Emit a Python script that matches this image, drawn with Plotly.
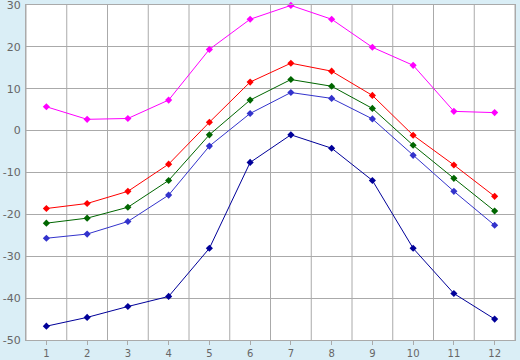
import plotly.graph_objects as go

months = [1, 2, 3, 4, 5, 6, 7, 8, 9, 10, 11, 12]
magenta = [5.7, 2.7, 2.9, 7.3, 19.4, 26.6, 29.9, 26.6, 19.9, 15.6, 4.6, 4.3]
red = [-18.6, -17.4, -14.5, -8.0, 2.0, 11.6, 16.1, 14.2, 8.4, -1.1, -8.2, -15.7]
green = [-22.1, -20.9, -18.3, -11.9, -1.0, 7.3, 12.2, 10.6, 5.3, -3.5, -11.4, -19.2]
blue = [-25.7, -24.7, -21.7, -15.4, -3.7, 4.1, 9.1, 7.7, 2.8, -5.9, -14.5, -22.6]
navy = [-46.7, -44.6, -42.0, -39.6, -28.1, -7.6, -1.0, -4.2, -11.9, -28.1, -38.9, -45.0]
ytick_vals = [-50, -40, -30, -20, -10, 0, 10, 20, 30]
ytick_text = ["-50", "-40", "-30", "-20", "-10", "0", "10", "20", "30"]

series = [
    (magenta, "#ff00ff"),
    (red, "#ff0000"),
    (green, "#006600"),
    (blue, "#3333cc"),
    (navy, "#000099"),
]

fig = go.Figure()
for vals, col in series:
    fig.add_trace(go.Scatter(
        x=months, y=vals, mode="lines+markers",
        line=dict(color=col, width=1),
        marker=dict(symbol="diamond", size=5.5, color=col),
        showlegend=False,
        cliponaxis=False,
    ))

# vertical gridlines between categories
for i in range(len(months) + 1):
    fig.add_shape(type="line", xref="x", yref="paper",
                  x0=0.5 + i, x1=0.5 + i, y0=0, y1=1,
                  line=dict(color="#aaaaaa", width=1), layer="below")

fig.update_layout(
    width=520, height=360,
    margin=dict(l=26, r=5, t=5, b=20, autoexpand=False),
    paper_bgcolor="#daeef6",
    plot_bgcolor="#ffffff",
    font=dict(family="DejaVu Sans", size=11, color="#666666"),
)
fig.update_xaxes(
    range=[0.5, 12.5], tickvals=months, ticktext=[str(m) for m in months],
    showgrid=False, zeroline=False, automargin=False,
    ticks="outside", ticklen=4, tickcolor="#aaaaaa",
    showline=True, linecolor="#aaaaaa", mirror=True,
    ticklabelstandoff=0, ticklabeloverflow="allow",
    tickfont=dict(size=10),
)
fig.update_yaxes(
    range=[-50, 30], tickvals=ytick_vals, ticktext=ytick_text,
    showgrid=True, gridcolor="#aaaaaa", gridwidth=1, zeroline=False,
    automargin=False,
    showline=True, linecolor="#aaaaaa", mirror=True, ticks="",
    ticklabelstandoff=2, ticklabeloverflow="allow",
)
fig.write_html("out.html")
